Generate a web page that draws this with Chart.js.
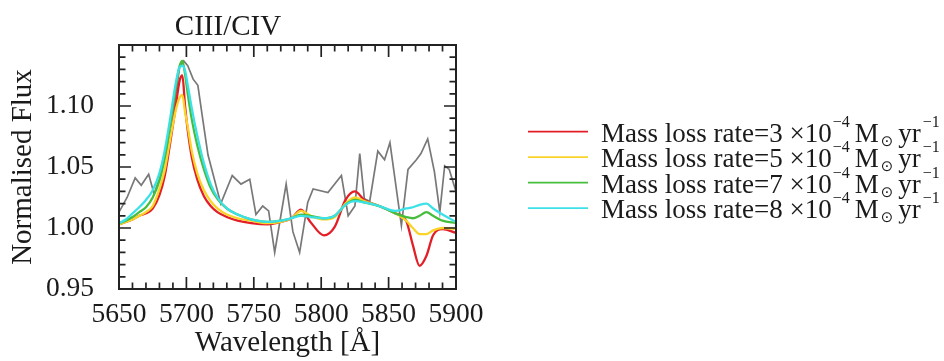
<!DOCTYPE html>
<html><head><meta charset="utf-8">
<script src="https://cdn.jsdelivr.net/npm/chart.js@4.4.1/dist/chart.umd.min.js"></script>
<style>html,body{margin:0;padding:0;background:#fff;}canvas{display:block;}</style>
</head><body>
<canvas id="c" width="944" height="361"></canvas>
<script>
// ---- text ----
const chartTitle = 'CIII/CIV';
const xAxisTitle = 'Wavelength [Å]';
const yAxisTitle = 'Normalised Flux';
const xTickValues = [5650, 5700, 5750, 5800, 5850, 5900];
const yTickValues = [0.95, 1.00, 1.05, 1.10];
const massLossRates = ['3', '5', '7', '8'];
const seriesLabels = massLossRates.map(r => 'Mass loss rate=' + r + ' ×10⁻⁴ M☉ yr⁻¹');

// ---- observed spectrum (grey) ----
const obsWave = [5650, 5656, 5662, 5666.5, 5672, 5676, 5680, 5684, 5688, 5692, 5695, 5698, 5701, 5705, 5708.5, 5712, 5716, 5721, 5725.5, 5734, 5740.5, 5747, 5751.6, 5756.6, 5761, 5765.5, 5774, 5779, 5784, 5790, 5794, 5805, 5815, 5820, 5825, 5828.6, 5832, 5836, 5842, 5847, 5851, 5859.5, 5864.4, 5870.6, 5874, 5879, 5884, 5888, 5891.6, 5895, 5898, 5900];
const obsFlux = [1.013, 1.025, 1.041, 1.035, 1.044, 1.028, 1.040, 1.058, 1.075, 1.108, 1.132, 1.137, 1.133, 1.122, 1.117, 1.090, 1.060, 1.039, 1.020, 1.043, 1.036, 1.040, 1.011, 1.018, 1.014, 0.980, 1.036, 0.997, 0.980, 1.021, 1.032, 1.029, 1.043, 1.010, 1.018, 1.061, 1.024, 1.022, 1.063, 1.056, 1.070, 1.002, 1.048, 1.056, 1.061, 1.073, 1.046, 1.013, 1.051, 1.048, 1.037, 1.030];

// ---- model spectra ----
const modelWave = [5650, 5655, 5660, 5665, 5670, 5675, 5680, 5684, 5688, 5692, 5695, 5697, 5699, 5701, 5704, 5708, 5713, 5718, 5723, 5730, 5738, 5748, 5760, 5770, 5778, 5785, 5792, 5802, 5810, 5818, 5825, 5832, 5843, 5855, 5863, 5868, 5873, 5878, 5883, 5890, 5900];
const fluxRate3 = [1.003, 1.005, 1.007, 1.010, 1.012, 1.016, 1.027, 1.043, 1.070, 1.099, 1.121, 1.125, 1.100, 1.080, 1.058, 1.040, 1.026, 1.018, 1.013, 1.009, 1.006, 1.004, 1.003, 1.005, 1.008, 1.015, 1.005, 0.994, 1.001, 1.023, 1.030, 1.023, 1.018, 1.012, 1.006, 0.986, 0.969, 0.977, 0.994, 0.999, 0.996];
const fluxRate5 = [1.003, 1.005, 1.007, 1.010, 1.013, 1.018, 1.032, 1.048, 1.073, 1.096, 1.107, 1.109, 1.095, 1.083, 1.063, 1.045, 1.031, 1.022, 1.016, 1.011, 1.008, 1.006, 1.004, 1.005, 1.008, 1.014, 1.010, 1.007, 1.009, 1.020, 1.025, 1.022, 1.018, 1.012, 1.006, 1.000, 0.995, 0.995, 0.998, 1.000, 0.999];
const fluxRate7 = [1.004, 1.006, 1.009, 1.013, 1.017, 1.025, 1.039, 1.058, 1.085, 1.115, 1.133, 1.137, 1.126, 1.110, 1.089, 1.068, 1.048, 1.033, 1.024, 1.016, 1.011, 1.007, 1.005, 1.006, 1.008, 1.011, 1.010, 1.008, 1.010, 1.019, 1.023, 1.021, 1.018, 1.012, 1.009, 1.008, 1.010, 1.013, 1.010, 1.006, 1.004];
const fluxRate8 = [1.004, 1.007, 1.012, 1.017, 1.023, 1.031, 1.045, 1.064, 1.090, 1.118, 1.132, 1.133, 1.129, 1.117, 1.098, 1.076, 1.053, 1.036, 1.025, 1.016, 1.011, 1.007, 1.005, 1.006, 1.008, 1.010, 1.009, 1.008, 1.010, 1.019, 1.022, 1.021, 1.018, 1.014, 1.016, 1.017, 1.019, 1.020, 1.016, 1.011, 1.005];

const modelFluxes = [fluxRate3, fluxRate5, fluxRate7, fluxRate8];
const modelColors = ['rgb(228,30,38)', 'rgb(250,212,40)', 'rgb(70,190,60)', 'rgb(60,225,232)'];
const obsColor = 'rgb(120,120,120)';
const textColor = '#1a1a1a';
const serif = "'Liberation Serif', 'DejaVu Serif', serif";

const toPoints = (xs, ys) => xs.map((x, i) => ({ x: x, y: ys[i] }));

const framePlugin = {
  id: 'frameTicks',
  afterDatasetsDraw(chart) {
    const c = chart.ctx, a = chart.chartArea;
    const xs = chart.scales.x, ys = chart.scales.y;
    c.save();
    c.strokeStyle = '#222';
    c.lineWidth = 1.7;
    c.beginPath();
    for (let v = 5650; v <= 5900 + 1e-6; v += 10) {
      const px = xs.getPixelForValue(v);
      const len = (Math.round(v) % 50 === 0) ? 12 : 6.5;
      c.moveTo(px, a.bottom); c.lineTo(px, a.bottom - len);
      c.moveTo(px, a.top); c.lineTo(px, a.top + len);
    }
    for (let k = 95; k <= 115; k++) {
      const v = k / 100;
      const py = ys.getPixelForValue(v);
      const len = (k % 5 === 0) ? 12 : 6.5;
      c.moveTo(a.left, py); c.lineTo(a.left + len, py);
      c.moveTo(a.right, py); c.lineTo(a.right - len, py);
    }
    c.stroke();
    c.lineWidth = 2;
    c.strokeRect(a.left, a.top, a.right - a.left, a.bottom - a.top);
    c.restore();
  }
};

const legendPlugin = {
  id: 'richLegend',
  afterDraw(chart) {
    const c = chart.ctx;
    c.save();
    c.beginPath(); c.rect(500, 0, 444, 223.5); c.clip();
    massLossRates.forEach((r, i) => {
      const ly = 131.7 + i * 25.5;
      const by = ly + 10;
      c.strokeStyle = modelColors[i]; c.lineWidth = 1.8;
      c.beginPath(); c.moveTo(528, ly); c.lineTo(588, ly); c.stroke();
      c.fillStyle = textColor; c.textBaseline = 'alphabetic'; c.textAlign = 'left';
      let x = 601;
      c.font = '27px ' + serif;
      const t1 = 'Mass loss rate=' + r + ' ×10';
      c.fillText(t1, x, by); x += c.measureText(t1).width + 1;
      c.font = '16px ' + serif;
      c.fillText('−4', x, by - 15); x += c.measureText('−4').width + 5;
      c.font = '27px ' + serif;
      c.fillText('M', x, by); x += c.measureText('M').width + 2;
      c.font = "15px 'DejaVu Sans'";
      c.fillText('⊙', x, by + 4); x += c.measureText('⊙').width + 5;
      c.font = '27px ' + serif;
      c.fillText('yr', x, by); x += c.measureText('yr').width + 2;
      c.font = '16px ' + serif;
      c.fillText('−1', x, by - 15);
    });
    c.restore();
  }
};

const datasets = [{
  label: 'Observed', data: toPoints(obsWave, obsFlux), borderColor: obsColor,
  borderWidth: 1.7, pointRadius: 0, tension: 0, order: 5
}];
modelFluxes.forEach((f, i) => datasets.push({
  label: seriesLabels[i], data: toPoints(modelWave, f), borderColor: modelColors[i],
  borderWidth: 2.3, pointRadius: 0, cubicInterpolationMode: 'monotone', order: 4 - i
}));

new Chart(document.getElementById('c').getContext('2d'), {
  type: 'line',
  data: { datasets: datasets },
  options: {
    responsive: false, animation: false, devicePixelRatio: 1,
    layout: { padding: { left: 0, right: 488, top: 0, bottom: 0 } },
    plugins: {
      legend: { display: false },
      tooltip: { enabled: false },
      title: { display: true, text: chartTitle, color: textColor,
        font: { family: serif, size: 29, weight: 'normal' }, padding: { top: 10, bottom: 0.2 } }
    },
    scales: {
      x: {
        type: 'linear', min: 5650, max: 5900,
        afterBuildTicks: s => { s.ticks = xTickValues.map(v => ({ value: v })); },
        ticks: { color: textColor, font: { family: serif, size: 27.5 }, padding: 1, maxRotation: 0, autoSkip: false, callback: v => String(v) },
        grid: { display: false }, border: { display: false },
        title: { display: true, text: xAxisTitle, color: textColor, font: { family: serif, size: 29 }, padding: { top: 0, bottom: 0 } },
        afterFit: s => { s.height = 72; }
      },
      y: {
        type: 'linear', min: 0.95, max: 1.15,
        afterBuildTicks: s => { s.ticks = yTickValues.map(v => ({ value: v })); },
        ticks: { color: textColor, font: { family: serif, size: 27.5 }, padding: 17, autoSkip: false, callback: v => Number(v).toFixed(2) },
        grid: { display: false }, border: { display: false },
        title: { display: true, text: yAxisTitle, color: textColor, font: { family: serif, size: 29 }, padding: { top: 6, bottom: 0 } },
        afterFit: s => { s.width = 119; }
      }
    }
  },
  plugins: [framePlugin, legendPlugin]
});
</script>
</body></html>
